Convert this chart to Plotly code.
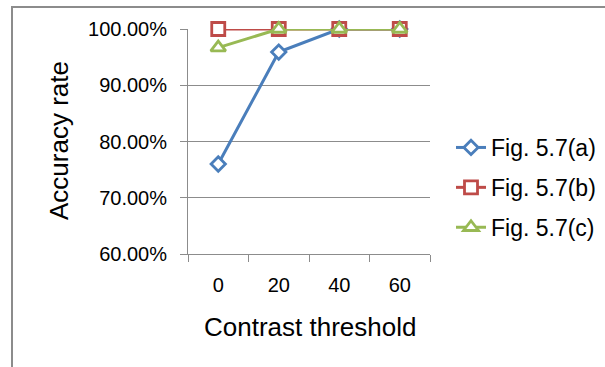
import plotly.graph_objects as go

# Contrast threshold categories and accuracy rates per figure
thresholds = ["0", "20", "40", "60"]
acc_a = [0.760, 0.959, 1.000, 1.000]
acc_b = [1.000, 1.000, 1.000, 1.000]
acc_c = [0.967, 1.000, 1.000, 1.000]
series_names = ["Fig. 5.7(a)", "Fig. 5.7(b)", "Fig. 5.7(c)"]
y_title = "Accuracy rate"
x_title = "Contrast threshold"

W, H = 605, 367
L, R, T, B = 188, 175, 29, 113
pw, ph = W - L - R, H - T - B


def px_x(p):
    return (p - L) / pw


def px_y(p):
    return (H - B - p) / ph


FONT = "Liberation Sans, Arial, sans-serif"
GRID = "#8c8c8c"

styles = [
    dict(color="#4A7EBB", symbol="diamond", size=11),
    dict(color="#BE4B48", symbol="square", size=13),
    dict(color="#98B954", symbol="triangle-up", size=13),
]

fig = go.Figure()
for i, (name, vals, st) in enumerate(zip(series_names, [acc_a, acc_b, acc_c], styles)):
    fig.add_trace(go.Scatter(
        x=thresholds, y=vals, name=name, mode="lines+markers",
        legendgroup=f"g{i}",
        line=dict(color=st["color"], width=3),
        marker=dict(symbol=st["symbol"], size=st["size"], color="white",
                    line=dict(color=st["color"], width=2.8)),
        cliponaxis=False,
    ))

fig.update_layout(
    width=W, height=H,
    margin=dict(l=L, r=R, t=T, b=B, autoexpand=False),
    paper_bgcolor="white", plot_bgcolor="white",
    font=dict(family=FONT, color="black", size=20),
    showlegend=True,
    legend=dict(
        x=px_x(451), y=px_y(126), xanchor="left", yanchor="top",
        font=dict(size=23, family=FONT), itemwidth=30,
        tracegroupgap=7, bgcolor="rgba(0,0,0,0)",
    ),
    xaxis=dict(
        type="category", range=[-0.5, 3.5], showgrid=False,
        showline=True, linecolor=GRID, linewidth=1,
        ticks="outside", tickson="boundaries", ticklen=7, tickcolor=GRID,
        tickfont=dict(size=20, family=FONT), ticklabelstandoff=13,
        zeroline=False,
    ),
    yaxis=dict(
        range=[0.6, 1.0], dtick=0.1, tick0=0.6, tickformat=".2%",
        showgrid=True, gridcolor=GRID, gridwidth=1,
        showline=True, linecolor=GRID, linewidth=1,
        ticks="outside", ticklen=7, tickcolor=GRID,
        tickfont=dict(size=20, family=FONT), ticklabelstandoff=9,
        zeroline=False,
    ),
    annotations=[
        dict(text=x_title, xref="paper", yref="paper", x=px_x(310), y=px_y(327),
             xanchor="center", yanchor="middle", showarrow=False,
             font=dict(size=26, family=FONT)),
        dict(text=y_title, xref="paper", yref="paper", x=px_x(59), y=px_y(141),
             xanchor="center", yanchor="middle", showarrow=False, textangle=-90,
             font=dict(size=26, family=FONT)),
    ],
    shapes=[
        dict(type="line", xref="paper", yref="paper", x0=px_x(12), x1=px_x(606),
             y0=px_y(7), y1=px_y(7), line=dict(color="#8c8c8c", width=2)),
        dict(type="line", xref="paper", yref="paper", x0=px_x(12), x1=px_x(12),
             y0=px_y(6), y1=px_y(368), line=dict(color="#8c8c8c", width=2)),
    ],
)

fig.write_html("out.html")
